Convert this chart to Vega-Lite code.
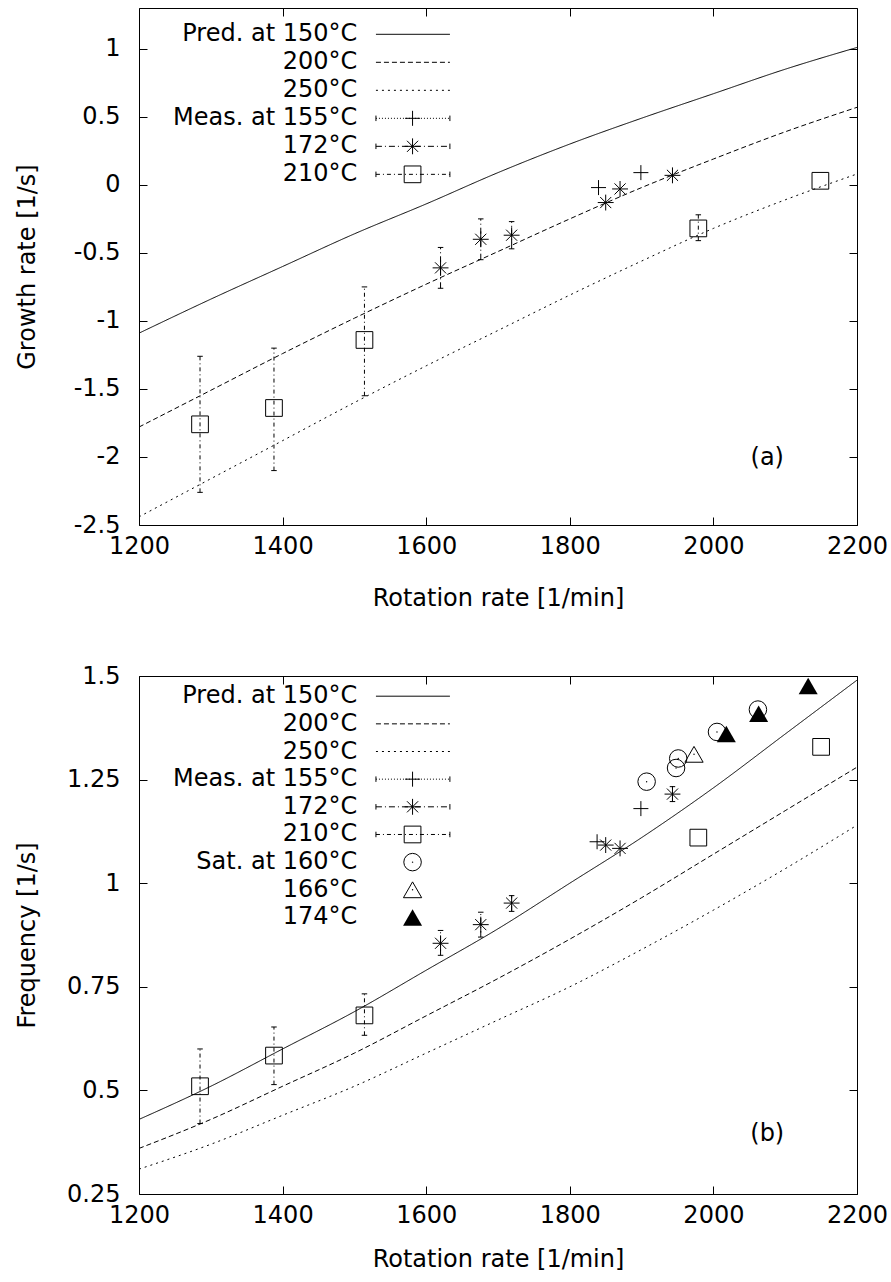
{
  "$schema": "https://vega.github.io/schema/vega-lite/v6.json",
  "background": "white",
  "padding": {"left": 14, "top": 7, "right": 5, "bottom": 2},
  "spacing": 52,
  "config": {
    "font": "DejaVu Sans",
    "view": {"stroke": "black", "strokeWidth": 1},
    "axis": {
      "grid": false, "domain": false, "tickColor": "black", "tickSize": -8, "tickWidth": 1,
      "labelColor": "black", "labelFont": "DejaVu Sans", "labelFontSize": 24,
      "titleFont": "DejaVu Sans", "titleFontSize": 24, "titleFontWeight": "normal", "titleColor": "black",
      "labelFlush": false, "labelOverlap": false
    },
    "text": {"font": "DejaVu Sans", "fontSize": 24, "color": "black"}
  },
  "datasets": {
    "predA": [
      {"s": "p150", "rpm": 1200, "v": -1.09}, {"s": "p150", "rpm": 1300, "v": -0.84}, {"s": "p150", "rpm": 1400, "v": -0.60},
      {"s": "p150", "rpm": 1500, "v": -0.36}, {"s": "p150", "rpm": 1600, "v": -0.14}, {"s": "p150", "rpm": 1700, "v": 0.09},
      {"s": "p150", "rpm": 1800, "v": 0.30}, {"s": "p150", "rpm": 1900, "v": 0.49}, {"s": "p150", "rpm": 2000, "v": 0.67},
      {"s": "p150", "rpm": 2100, "v": 0.85}, {"s": "p150", "rpm": 2200, "v": 1.01},
      {"s": "p200", "rpm": 1200, "v": -1.78}, {"s": "p200", "rpm": 1300, "v": -1.51}, {"s": "p200", "rpm": 1400, "v": -1.24},
      {"s": "p200", "rpm": 1500, "v": -0.98}, {"s": "p200", "rpm": 1600, "v": -0.73}, {"s": "p200", "rpm": 1700, "v": -0.49},
      {"s": "p200", "rpm": 1800, "v": -0.25}, {"s": "p200", "rpm": 1900, "v": -0.02}, {"s": "p200", "rpm": 2000, "v": 0.19},
      {"s": "p200", "rpm": 2100, "v": 0.39}, {"s": "p200", "rpm": 2200, "v": 0.57},
      {"s": "p250", "rpm": 1200, "v": -2.44}, {"s": "p250", "rpm": 1300, "v": -2.16}, {"s": "p250", "rpm": 1400, "v": -1.88},
      {"s": "p250", "rpm": 1500, "v": -1.60}, {"s": "p250", "rpm": 1600, "v": -1.33}, {"s": "p250", "rpm": 1700, "v": -1.07},
      {"s": "p250", "rpm": 1800, "v": -0.81}, {"s": "p250", "rpm": 1900, "v": -0.56}, {"s": "p250", "rpm": 2000, "v": -0.32},
      {"s": "p250", "rpm": 2100, "v": -0.11}, {"s": "p250", "rpm": 2200, "v": 0.08}
    ],
    "measA": [
      {"s": "155", "rpm": 1840, "v": -0.02},
      {"s": "155", "rpm": 1899, "v": 0.09},
      {"s": "172", "rpm": 1620, "v": -0.61, "lo": -0.76, "hi": -0.46},
      {"s": "172", "rpm": 1676, "v": -0.40, "lo": -0.55, "hi": -0.25},
      {"s": "172", "rpm": 1719, "v": -0.37, "lo": -0.47, "hi": -0.27},
      {"s": "172", "rpm": 1850, "v": -0.13},
      {"s": "172", "rpm": 1870, "v": -0.03},
      {"s": "172", "rpm": 1943, "v": 0.07},
      {"s": "210", "rpm": 1285, "v": -1.76, "lo": -2.26, "hi": -1.26},
      {"s": "210", "rpm": 1388, "v": -1.64, "lo": -2.10, "hi": -1.20},
      {"s": "210", "rpm": 1514, "v": -1.14, "lo": -1.55, "hi": -0.75},
      {"s": "210", "rpm": 1979, "v": -0.32, "lo": -0.41, "hi": -0.22},
      {"s": "210", "rpm": 2149, "v": 0.03}
    ],
    "predB": [
      {"s": "p150", "rpm": 1200, "v": 0.43}, {"s": "p150", "rpm": 1300, "v": 0.51}, {"s": "p150", "rpm": 1400, "v": 0.60},
      {"s": "p150", "rpm": 1500, "v": 0.69}, {"s": "p150", "rpm": 1600, "v": 0.79}, {"s": "p150", "rpm": 1700, "v": 0.89},
      {"s": "p150", "rpm": 1800, "v": 1.00}, {"s": "p150", "rpm": 1900, "v": 1.11}, {"s": "p150", "rpm": 2000, "v": 1.23},
      {"s": "p150", "rpm": 2100, "v": 1.36}, {"s": "p150", "rpm": 2200, "v": 1.49},
      {"s": "p200", "rpm": 1200, "v": 0.36}, {"s": "p200", "rpm": 1300, "v": 0.43}, {"s": "p200", "rpm": 1400, "v": 0.51},
      {"s": "p200", "rpm": 1500, "v": 0.59}, {"s": "p200", "rpm": 1600, "v": 0.68}, {"s": "p200", "rpm": 1700, "v": 0.77},
      {"s": "p200", "rpm": 1800, "v": 0.865}, {"s": "p200", "rpm": 1900, "v": 0.965}, {"s": "p200", "rpm": 2000, "v": 1.07},
      {"s": "p200", "rpm": 2100, "v": 1.175}, {"s": "p200", "rpm": 2200, "v": 1.28},
      {"s": "p250", "rpm": 1200, "v": 0.31}, {"s": "p250", "rpm": 1300, "v": 0.37}, {"s": "p250", "rpm": 1400, "v": 0.44},
      {"s": "p250", "rpm": 1500, "v": 0.51}, {"s": "p250", "rpm": 1600, "v": 0.59}, {"s": "p250", "rpm": 1700, "v": 0.67},
      {"s": "p250", "rpm": 1800, "v": 0.75}, {"s": "p250", "rpm": 1900, "v": 0.84}, {"s": "p250", "rpm": 2000, "v": 0.935},
      {"s": "p250", "rpm": 2100, "v": 1.035}, {"s": "p250", "rpm": 2200, "v": 1.14}
    ],
    "measB": [
      {"s": "155", "rpm": 1838, "v": 1.10},
      {"s": "155", "rpm": 1899, "v": 1.18},
      {"s": "172", "rpm": 1620, "v": 0.855, "lo": 0.826, "hi": 0.886},
      {"s": "172", "rpm": 1676, "v": 0.90, "lo": 0.87, "hi": 0.93},
      {"s": "172", "rpm": 1719, "v": 0.952, "lo": 0.932, "hi": 0.97},
      {"s": "172", "rpm": 1850, "v": 1.092},
      {"s": "172", "rpm": 1870, "v": 1.084},
      {"s": "172", "rpm": 1943, "v": 1.215, "lo": 1.197, "hi": 1.233},
      {"s": "210", "rpm": 1285, "v": 0.51, "lo": 0.42, "hi": 0.60},
      {"s": "210", "rpm": 1388, "v": 0.584, "lo": 0.514, "hi": 0.653},
      {"s": "210", "rpm": 1514, "v": 0.681, "lo": 0.633, "hi": 0.733},
      {"s": "210", "rpm": 1979, "v": 1.11},
      {"s": "210", "rpm": 2150, "v": 1.329},
      {"s": "160", "rpm": 1907, "v": 1.245},
      {"s": "160", "rpm": 1948, "v": 1.278},
      {"s": "160", "rpm": 1951, "v": 1.301},
      {"s": "160", "rpm": 2005, "v": 1.365},
      {"s": "160", "rpm": 2062, "v": 1.419},
      {"s": "166", "rpm": 1973, "v": 1.311},
      {"s": "174", "rpm": 2018, "v": 1.36},
      {"s": "174", "rpm": 2063, "v": 1.409},
      {"s": "174", "rpm": 2132, "v": 1.476}
    ],
    "legA": [
      {"k": 1, "label": "Pred. at 150°C", "s": "p150"},
      {"k": 2, "label": "200°C", "s": "p200"},
      {"k": 3, "label": "250°C", "s": "p250"},
      {"k": 4, "label": "Meas. at 155°C", "s": "155"},
      {"k": 5, "label": "172°C", "s": "172"},
      {"k": 6, "label": "210°C", "s": "210"}
    ],
    "legB": [
      {"k": 1, "label": "Pred. at 150°C", "s": "p150"},
      {"k": 2, "label": "200°C", "s": "p200"},
      {"k": 3, "label": "250°C", "s": "p250"},
      {"k": 4, "label": "Meas. at 155°C", "s": "155"},
      {"k": 5, "label": "172°C", "s": "172"},
      {"k": 6, "label": "210°C", "s": "210"},
      {"k": 7, "label": "Sat. at 160°C", "s": "160"},
      {"k": 8, "label": "166°C", "s": "166"},
      {"k": 9, "label": "174°C", "s": "174"}
    ]
  },
  "vconcat": [
    {
      "width": 718, "height": 517,
      "resolve": {"scale": {"y": "independent"}},
      "layer": [
        {
          "resolve": {"axis": {"x": "independent", "y": "independent"}},
          "layer": [
            {
              "data": {"name": "predA"},
              "mark": {"type": "line", "interpolate": "monotone", "strokeWidth": 1, "color": "black"},
              "encoding": {
                "x": {"field": "rpm", "type": "quantitative", "scale": {"domain": [1200, 2200], "nice": false, "zero": false},
                      "axis": {"orient": "bottom", "values": [1200, 1400, 1600, 1800, 2000, 2200], "format": "d", "labelPadding": 17, "title": "Rotation rate [1/min]", "titlePadding": 28}},
                "y": {"field": "v", "type": "quantitative", "scale": {"domain": [-2.5, 1.3], "nice": false, "zero": false},
                      "axis": {"orient": "left", "values": [-2.5, -2, -1.5, -1, -0.5, 0, 0.5, 1], "labelExpr": "'' + datum.value", "labelPadding": 27, "title": "Growth rate [1/s]", "titlePadding": 35, "minExtent": 65, "maxExtent": 65}},
                "strokeDash": {"field": "s", "type": "nominal", "legend": null,
                               "scale": {"domain": ["p150", "p200", "p250", "155", "172", "210"], "range": [[1, 0], [5, 3], [2, 4], [1, 2], [6, 3, 1, 3], [4, 3, 1, 3]]}}
              }
            },
            {
              "data": {"name": "measA"},
              "transform": [{"filter": "isValid(datum.lo)"}],
              "mark": {"type": "rule", "color": "black", "strokeWidth": 1},
              "encoding": {
                "x": {"field": "rpm", "type": "quantitative", "axis": {"orient": "top", "values": [1200, 1400, 1600, 1800, 2000, 2200], "labels": false, "title": null}},
                "y": {"field": "lo", "type": "quantitative", "axis": {"orient": "right", "values": [-2.5, -2, -1.5, -1, -0.5, 0, 0.5, 1], "labels": false, "title": null}},
                "y2": {"field": "hi"},
                "strokeDash": {"field": "s", "type": "nominal", "legend": null}
              }
            },
            {
              "data": {"name": "measA"},
              "transform": [{"filter": "isValid(datum.lo)"}],
              "mark": {"type": "point", "shape": "M-1,0H1", "size": 30, "filled": false, "color": "black", "strokeWidth": 1, "opacity": 1},
              "encoding": {
                "x": {"field": "rpm", "type": "quantitative", "axis": null},
                "y": {"field": "lo", "type": "quantitative", "axis": null}
              }
            },
            {
              "data": {"name": "measA"},
              "transform": [{"filter": "isValid(datum.hi)"}],
              "mark": {"type": "point", "shape": "M-1,0H1", "size": 30, "filled": false, "color": "black", "strokeWidth": 1, "opacity": 1},
              "encoding": {
                "x": {"field": "rpm", "type": "quantitative", "axis": null},
                "y": {"field": "hi", "type": "quantitative", "axis": null}
              }
            },
            {
              "data": {"name": "measA"},
              "mark": {"type": "point", "filled": false, "color": "black", "strokeWidth": 1, "opacity": 1},
              "encoding": {
                "x": {"field": "rpm", "type": "quantitative", "axis": null},
                "y": {"field": "v", "type": "quantitative", "axis": null},
                "shape": {"field": "s", "type": "nominal", "legend": null,
                          "scale": {"domain": ["155", "172", "210", "160", "166", "174"], "range": ["M-1,0H1M0,-1V1", "M-1,0H1M0,-1V1M-0.7,-0.7L0.7,0.7M-0.7,0.7L0.7,-0.7", "square", "circle", "triangle-up", "triangle-up"]}},
                "size": {"field": "s", "type": "nominal", "legend": null,
                         "scale": {"domain": ["155", "172", "210", "160", "166", "174"], "range": [225, 361, 256, 289, 289, 289]}}
              }
            },
            {
              "data": {"values": [{"t": "(a)"}]},
              "mark": {"type": "text", "align": "center", "baseline": "middle", "fontSize": 24, "font": "DejaVu Sans", "color": "black"},
              "encoding": {
                "x": {"datum": 2075, "type": "quantitative", "axis": null},
                "y": {"datum": -2.01, "type": "quantitative", "axis": null},
                "text": {"field": "t"}
              }
            }
          ]
        },
        {
          "data": {"name": "legA"},
          "layer": [
            {
              "mark": {"type": "text", "align": "right", "baseline": "middle", "fontSize": 24, "font": "DejaVu Sans", "color": "black"},
              "encoding": {
                "x": {"datum": 1504, "type": "quantitative", "axis": null},
                "y": {"field": "k", "type": "quantitative", "scale": {"domain": [0.061, 18.52], "reverse": true, "nice": false, "zero": false}, "axis": null},
                "text": {"field": "label"}
              }
            },
            {
              "transform": [{"filter": "datum.k <= 6"}],
              "mark": {"type": "rule", "color": "black", "strokeWidth": 1},
              "encoding": {
                "x": {"datum": 1530, "type": "quantitative", "axis": null},
                "x2": {"datum": 1633},
                "y": {"field": "k", "type": "quantitative", "axis": null},
                "strokeDash": {"field": "s", "type": "nominal", "legend": null}
              }
            },
            {
              "transform": [{"filter": "datum.k >= 4 && datum.k <= 6"}],
              "mark": {"type": "point", "shape": "M0,-1V1", "size": 30, "filled": false, "color": "black", "strokeWidth": 1, "opacity": 1},
              "encoding": {
                "x": {"datum": 1530, "type": "quantitative", "axis": null},
                "y": {"field": "k", "type": "quantitative", "axis": null}
              }
            },
            {
              "transform": [{"filter": "datum.k >= 4 && datum.k <= 6"}],
              "mark": {"type": "point", "shape": "M0,-1V1", "size": 30, "filled": false, "color": "black", "strokeWidth": 1, "opacity": 1},
              "encoding": {
                "x": {"datum": 1633, "type": "quantitative", "axis": null},
                "y": {"field": "k", "type": "quantitative", "axis": null}
              }
            },
            {
              "transform": [{"filter": "datum.k >= 4"}],
              "mark": {"type": "point", "filled": false, "color": "black", "strokeWidth": 1, "opacity": 1},
              "encoding": {
                "x": {"datum": 1581, "type": "quantitative", "axis": null},
                "y": {"field": "k", "type": "quantitative", "axis": null},
                "shape": {"field": "s", "type": "nominal", "legend": null},
                "size": {"field": "s", "type": "nominal", "legend": null}
              }
            }
          ]
        }
      ]
    },
    {
      "width": 718, "height": 518,
      "resolve": {"scale": {"y": "independent"}},
      "layer": [
        {
          "resolve": {"axis": {"x": "independent", "y": "independent"}},
          "layer": [
            {
              "data": {"name": "predB"},
              "mark": {"type": "line", "interpolate": "monotone", "strokeWidth": 1, "color": "black"},
              "encoding": {
                "x": {"field": "rpm", "type": "quantitative", "scale": {"domain": [1200, 2200], "nice": false, "zero": false},
                      "axis": {"orient": "bottom", "values": [1200, 1400, 1600, 1800, 2000, 2200], "format": "d", "labelPadding": 17, "title": "Rotation rate [1/min]", "titlePadding": 20}},
                "y": {"field": "v", "type": "quantitative", "scale": {"domain": [0.25, 1.5], "nice": false, "zero": false},
                      "axis": {"orient": "left", "values": [0.25, 0.5, 0.75, 1, 1.25, 1.5], "labelExpr": "'' + datum.value", "labelPadding": 27, "title": "Frequency [1/s]", "titlePadding": 35, "minExtent": 65, "maxExtent": 65}},
                "strokeDash": {"field": "s", "type": "nominal", "legend": null,
                               "scale": {"domain": ["p150", "p200", "p250", "155", "172", "210"], "range": [[1, 0], [5, 3], [2, 4], [1, 2], [6, 3, 1, 3], [4, 3, 1, 3]]}}
              }
            },
            {
              "data": {"name": "measB"},
              "transform": [{"filter": "isValid(datum.lo)"}],
              "mark": {"type": "rule", "color": "black", "strokeWidth": 1},
              "encoding": {
                "x": {"field": "rpm", "type": "quantitative", "axis": {"orient": "top", "values": [1200, 1400, 1600, 1800, 2000, 2200], "labels": false, "title": null}},
                "y": {"field": "lo", "type": "quantitative", "axis": {"orient": "right", "values": [0.25, 0.5, 0.75, 1, 1.25, 1.5], "labels": false, "title": null}},
                "y2": {"field": "hi"},
                "strokeDash": {"field": "s", "type": "nominal", "legend": null}
              }
            },
            {
              "data": {"name": "measB"},
              "transform": [{"filter": "isValid(datum.lo)"}],
              "mark": {"type": "point", "shape": "M-1,0H1", "size": 30, "filled": false, "color": "black", "strokeWidth": 1, "opacity": 1},
              "encoding": {
                "x": {"field": "rpm", "type": "quantitative", "axis": null},
                "y": {"field": "lo", "type": "quantitative", "axis": null}
              }
            },
            {
              "data": {"name": "measB"},
              "transform": [{"filter": "isValid(datum.hi)"}],
              "mark": {"type": "point", "shape": "M-1,0H1", "size": 30, "filled": false, "color": "black", "strokeWidth": 1, "opacity": 1},
              "encoding": {
                "x": {"field": "rpm", "type": "quantitative", "axis": null},
                "y": {"field": "hi", "type": "quantitative", "axis": null}
              }
            },
            {
              "data": {"name": "measB"},
              "transform": [{"filter": "datum.s != '174'"}],
              "mark": {"type": "point", "filled": false, "color": "black", "strokeWidth": 1, "opacity": 1},
              "encoding": {
                "x": {"field": "rpm", "type": "quantitative", "axis": null},
                "y": {"field": "v", "type": "quantitative", "axis": null},
                "shape": {"field": "s", "type": "nominal", "legend": null,
                          "scale": {"domain": ["155", "172", "210", "160", "166", "174"], "range": ["M-1,0H1M0,-1V1", "M-1,0H1M0,-1V1M-0.7,-0.7L0.7,0.7M-0.7,0.7L0.7,-0.7", "square", "circle", "triangle-up", "triangle-up"]}},
                "size": {"field": "s", "type": "nominal", "legend": null,
                         "scale": {"domain": ["155", "172", "210", "160", "166", "174"], "range": [225, 361, 256, 289, 289, 289]}}
              }
            },
            {
              "data": {"name": "measB"},
              "transform": [{"filter": "datum.s == '174'"}],
              "mark": {"type": "point", "filled": true, "color": "black", "opacity": 1},
              "encoding": {
                "x": {"field": "rpm", "type": "quantitative", "axis": null},
                "y": {"field": "v", "type": "quantitative", "axis": null},
                "shape": {"field": "s", "type": "nominal", "legend": null},
                "size": {"field": "s", "type": "nominal", "legend": null}
              }
            },
            {
              "data": {"name": "measB"},
              "transform": [{"filter": "datum.s == '160' || datum.s == '166'"}],
              "mark": {"type": "point", "shape": "circle", "size": 2, "filled": true, "color": "black", "opacity": 1},
              "encoding": {
                "x": {"field": "rpm", "type": "quantitative", "axis": null},
                "y": {"field": "v", "type": "quantitative", "axis": null}
              }
            },
            {
              "data": {"values": [{"t": "(b)"}]},
              "mark": {"type": "text", "align": "center", "baseline": "middle", "fontSize": 24, "font": "DejaVu Sans", "color": "black"},
              "encoding": {
                "x": {"datum": 2075, "type": "quantitative", "axis": null},
                "y": {"datum": 0.394, "type": "quantitative", "axis": null},
                "text": {"field": "t"}
              }
            }
          ]
        },
        {
          "data": {"name": "legB"},
          "layer": [
            {
              "mark": {"type": "text", "align": "right", "baseline": "middle", "fontSize": 24, "font": "DejaVu Sans", "color": "black"},
              "encoding": {
                "x": {"datum": 1504, "type": "quantitative", "axis": null},
                "y": {"field": "k", "type": "quantitative", "scale": {"domain": [0.27, 19.0], "reverse": true, "nice": false, "zero": false}, "axis": null},
                "text": {"field": "label"}
              }
            },
            {
              "transform": [{"filter": "datum.k <= 6"}],
              "mark": {"type": "rule", "color": "black", "strokeWidth": 1},
              "encoding": {
                "x": {"datum": 1530, "type": "quantitative", "axis": null},
                "x2": {"datum": 1633},
                "y": {"field": "k", "type": "quantitative", "axis": null},
                "strokeDash": {"field": "s", "type": "nominal", "legend": null}
              }
            },
            {
              "transform": [{"filter": "datum.k >= 4 && datum.k <= 6"}],
              "mark": {"type": "point", "shape": "M0,-1V1", "size": 30, "filled": false, "color": "black", "strokeWidth": 1, "opacity": 1},
              "encoding": {
                "x": {"datum": 1530, "type": "quantitative", "axis": null},
                "y": {"field": "k", "type": "quantitative", "axis": null}
              }
            },
            {
              "transform": [{"filter": "datum.k >= 4 && datum.k <= 6"}],
              "mark": {"type": "point", "shape": "M0,-1V1", "size": 30, "filled": false, "color": "black", "strokeWidth": 1, "opacity": 1},
              "encoding": {
                "x": {"datum": 1633, "type": "quantitative", "axis": null},
                "y": {"field": "k", "type": "quantitative", "axis": null}
              }
            },
            {
              "transform": [{"filter": "datum.k >= 4 && datum.k <= 8"}],
              "mark": {"type": "point", "filled": false, "color": "black", "strokeWidth": 1, "opacity": 1},
              "encoding": {
                "x": {"datum": 1581, "type": "quantitative", "axis": null},
                "y": {"field": "k", "type": "quantitative", "axis": null},
                "shape": {"field": "s", "type": "nominal", "legend": null},
                "size": {"field": "s", "type": "nominal", "legend": null}
              }
            },
            {
              "transform": [{"filter": "datum.k == 9"}],
              "mark": {"type": "point", "filled": true, "color": "black", "opacity": 1},
              "encoding": {
                "x": {"datum": 1581, "type": "quantitative", "axis": null},
                "y": {"field": "k", "type": "quantitative", "axis": null},
                "shape": {"field": "s", "type": "nominal", "legend": null},
                "size": {"field": "s", "type": "nominal", "legend": null}
              }
            },
            {
              "transform": [{"filter": "datum.k == 7 || datum.k == 8"}],
              "mark": {"type": "point", "shape": "circle", "size": 2, "filled": true, "color": "black", "opacity": 1},
              "encoding": {
                "x": {"datum": 1581, "type": "quantitative", "axis": null},
                "y": {"field": "k", "type": "quantitative", "axis": null}
              }
            }
          ]
        }
      ]
    }
  ]
}
